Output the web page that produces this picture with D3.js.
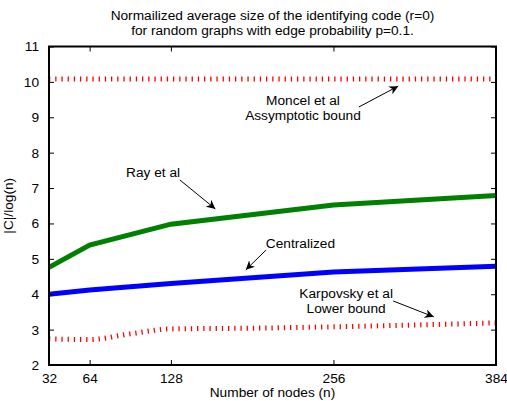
<!DOCTYPE html>
<html>
<head>
<meta charset="utf-8">
<script src="https://cdn.jsdelivr.net/npm/d3@7"></script>
<style>
  body { margin: 0; background: #fff; }
  text { font-family: "Liberation Sans", Arial, sans-serif; font-size: 13.7px; fill: #000; }
</style>
</head>
<body>
<div class="chart"></div>
<script>
// values
const nodes = [32, 64, 128, 256, 384];
const rayEtAl = [4.76, 5.39, 5.98, 6.52, 6.79];
const centralized = [4.0, 4.12, 4.3, 4.63, 4.79];
const moncel = [10.08, 10.08, 10.08, 10.08, 10.08];
const karpNodes = [32, 64, 96, 128, 192, 256, 320, 384];
const karpovsky = [2.74, 2.72, 2.88, 3.02, 3.04, 3.08, 3.13, 3.19];

const xTicks = [32, 64, 128, 256, 384];
const yTicks = [2, 3, 4, 5, 6, 7, 8, 9, 10, 11];

const titleLines = ['Normailized average size of the identifying code (r=0)',
                    'for random graphs with edge probability p=0.1.'];

// annotations: text anchor in data space, arrow from -> to
const notes = [
  {lines: ['Moncel et al', 'Assymptotic bound'], x: 232, y: 9.35, from: [276, 9.29], to: [307, 9.88]},
  {lines: ['Ray et al'], x: 114, y: 7.31, from: [135, 7.23], to: [163, 6.41]},
  {lines: ['Centralized'], x: 230, y: 5.31, from: [203, 5.25], to: [187, 4.69]},
  {lines: ['Karpovsky et al', 'Lower bound'], x: 266, y: 3.89, from: [303, 3.81], to: [335, 3.36]}
];

const W = 507, H = 401;
const margin = {top: 46.5, right: 11, bottom: 36, left: 49};
const width = W - margin.left - margin.right;
const height = H - margin.top - margin.bottom;

const svg = d3.select('.chart').append('svg')
  .attr('width', W).attr('height', H);

svg.append('defs').append('marker')
  .attr('id', 'head')
  .attr('viewBox', '0 0 10 10')
  .attr('refX', 10).attr('refY', 5)
  .attr('markerWidth', 9).attr('markerHeight', 9)
  .attr('markerUnits', 'userSpaceOnUse')
  .attr('orient', 'auto')
  .append('path').attr('d', 'M0,0 L10,5 L0,10 L3,5 Z').attr('fill', '#000');

const g = svg.append('g').attr('transform', `translate(${margin.left},${margin.top})`);

const x = d3.scaleLinear().domain([32, 384]).range([0, width]);
const y = d3.scaleLinear().domain([2, 11]).range([height, 0]);

// lines
const line = d3.line().x(d => x(d[0])).y(d => y(d[1]));
const zip = (a, b) => a.map((v, i) => [v, b[i]]);

g.append('path').datum(zip(nodes, moncel))
  .attr('d', line).attr('fill', 'none')
  .attr('stroke', '#ff0000').attr('stroke-width', 5).attr('stroke-dasharray', '1.3,4.9');

g.append('path').datum(zip(karpNodes, karpovsky))
  .attr('d', line.curve(d3.curveMonotoneX)).attr('fill', 'none')
  .attr('stroke', '#ff0000').attr('stroke-width', 5).attr('stroke-dasharray', '1.3,4.9');
line.curve(d3.curveLinear);

g.append('path').datum(zip(nodes, rayEtAl))
  .attr('d', line).attr('fill', 'none')
  .attr('stroke', '#008000').attr('stroke-width', 5);

g.append('path').datum(zip(nodes, centralized))
  .attr('d', line).attr('fill', 'none')
  .attr('stroke', '#0000ff').attr('stroke-width', 5);

// axes, matlab style: ticks pointing inward on all four sides
const tk = 5;
g.append('g').attr('transform', `translate(0,${height})`)
  .call(d3.axisBottom(x).tickValues(xTicks).tickSize(-tk).tickPadding(8))
  .call(a => a.select('.domain').remove());
g.append('g')
  .call(d3.axisTop(x).tickValues(xTicks).tickSize(-tk).tickFormat(''))
  .call(a => a.select('.domain').remove());
g.append('g')
  .call(d3.axisLeft(y).tickValues(yTicks).tickSize(-tk).tickPadding(10))
  .call(a => a.select('.domain').remove());
g.append('g').attr('transform', `translate(${width},0)`)
  .call(d3.axisRight(y).tickValues(yTicks).tickSize(-tk).tickFormat(''))
  .call(a => a.select('.domain').remove());
g.selectAll('.tick text').attr('font-size', 13.2).attr('font-family', '"Liberation Sans", Arial, sans-serif').attr('fill', '#000');
g.selectAll('.tick line').attr('stroke', '#000');

g.append('rect').attr('width', width).attr('height', height)
  .attr('fill', 'none').attr('stroke', '#000').attr('stroke-width', 2);

// annotations
notes.forEach(n => {
  const t = g.append('text').attr('text-anchor', 'middle')
    .attr('x', x(n.x)).attr('y', y(n.y));
  n.lines.forEach((s, i) => {
    t.append('tspan').attr('x', x(n.x)).attr('dy', i ? 15 : 0).text(s);
  });
  g.append('line')
    .attr('x1', x(n.from[0])).attr('y1', y(n.from[1]))
    .attr('x2', x(n.to[0])).attr('y2', y(n.to[1]))
    .attr('stroke', '#000').attr('stroke-width', 1)
    .attr('marker-end', 'url(#head)');
});

// title and labels
titleLines.forEach((s, i) => {
  svg.append('text').attr('text-anchor', 'middle')
    .attr('x', margin.left + width / 2).attr('y', 20 + i * 15)
    .text(s);
});
svg.append('text').attr('text-anchor', 'middle')
  .attr('x', margin.left + width / 2).attr('y', 397)
  .text('Number of nodes (n)');
svg.append('text').attr('text-anchor', 'middle')
  .attr('transform', `translate(13,${margin.top + height / 2}) rotate(-90)`)
  .text('|C|/log(n)');
</script>
</body>
</html>
